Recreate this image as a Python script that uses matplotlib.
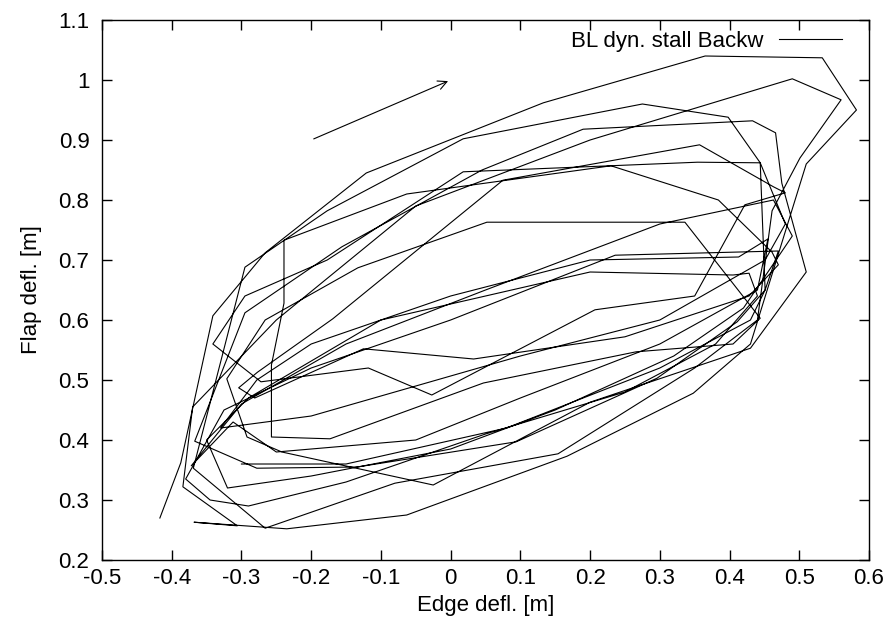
import matplotlib
matplotlib.use("Agg")
import matplotlib.pyplot as plt
import numpy as np

plt.rcParams['font.family'] = ['Liberation Sans', 'DejaVu Sans']
plt.rcParams['font.size'] = 16

# edge / flap deflection, one cycle at a time
edge = [
    # cycle 1
    -0.417, -0.387, -0.341, -0.266, -0.121, 0.133, 0.365, 0.533, 0.582, 0.510, 0.430, 0.348, 0.167, -0.063, -0.235, -0.368,
    # cycle 2
    -0.306, -0.384, -0.370, -0.250, -0.050, 0.200, 0.490, 0.560, 0.501, 0.461, 0.440, 0.350, 0.154, -0.080, -0.266,
    # cycle 3
    -0.369, -0.295, -0.177, 0.018, 0.275, 0.398, 0.444, 0.451, 0.411, 0.296, 0.094, -0.134, -0.278,
    # cycle 4
    -0.367, -0.295, -0.156, 0.045, 0.190, 0.433, 0.466, 0.475, 0.510, 0.430, 0.200, -0.025, -0.242,
    # cycle 5
    -0.292, -0.321, -0.266, -0.133, 0.052, 0.336, 0.444, 0.405, 0.266, 0.047, -0.173,
    # cycle 6
    -0.257, -0.257, -0.239, -0.239, -0.063, 0.230, 0.384, 0.461, 0.470, 0.428, 0.250, 0.033, -0.125, -0.281,
    # cycle 7
    -0.304, -0.277, -0.169, 0.075, 0.357, 0.463, 0.480, 0.422, 0.350, 0.207, -0.027, -0.118, -0.272,
    # cycle 8
    -0.341, -0.295, -0.177, 0.018, 0.354, 0.444, 0.480, 0.451, 0.300, 0.100, -0.200, -0.330,
    # cycle 9
    -0.278, -0.200, 0.000, 0.200, 0.413, 0.455, 0.440, 0.300, 0.100, -0.050, -0.250, -0.312,
    # cycle 10
    -0.372, -0.300, -0.150, 0.050, 0.300, 0.463, 0.490, 0.420, 0.320, 0.150, 0.000, -0.200,
    # cycle 11
    -0.320, -0.350, -0.290, -0.100, 0.200, 0.405, 0.428, 0.440, 0.380, 0.250, 0.050, -0.150, -0.290,
    # cycle 12
    -0.345, -0.380, -0.325, -0.200, 0.000, 0.236, 0.470, 0.451, 0.430, 0.300, 0.080, -0.150, -0.300,
]
flap = [
    # cycle 1
    0.270, 0.362, 0.607, 0.712, 0.845, 0.962, 1.040, 1.037, 0.950, 0.860, 0.560, 0.478, 0.373, 0.275, 0.252, 0.263,
    # cycle 2
    0.257, 0.322, 0.455, 0.600, 0.790, 0.900, 1.002, 0.967, 0.870, 0.782, 0.600, 0.520, 0.377, 0.328, 0.253,
    # cycle 3
    0.353, 0.688, 0.782, 0.902, 0.960, 0.938, 0.862, 0.650, 0.597, 0.503, 0.397, 0.355, 0.353,
    # cycle 4
    0.398, 0.612, 0.722, 0.850, 0.918, 0.932, 0.912, 0.828, 0.680, 0.553, 0.463, 0.325, 0.380,
    # cycle 5
    0.405, 0.502, 0.600, 0.687, 0.763, 0.763, 0.603, 0.560, 0.547, 0.495, 0.402,
    # cycle 6
    0.405, 0.525, 0.628, 0.733, 0.810, 0.857, 0.800, 0.713, 0.692, 0.640, 0.572, 0.535, 0.552, 0.470,
    # cycle 7
    0.487, 0.513, 0.602, 0.833, 0.892, 0.822, 0.812, 0.792, 0.640, 0.617, 0.475, 0.520, 0.497,
    # cycle 8
    0.560, 0.640, 0.700, 0.847, 0.863, 0.862, 0.760, 0.700, 0.600, 0.540, 0.440, 0.420,
    # cycle 9
    0.500, 0.560, 0.640, 0.700, 0.705, 0.735, 0.650, 0.560, 0.470, 0.400, 0.380, 0.430,
    # cycle 10
    0.357, 0.460, 0.560, 0.650, 0.760, 0.800, 0.740, 0.620, 0.540, 0.450, 0.385, 0.340,
    # cycle 11
    0.320, 0.400, 0.470, 0.600, 0.680, 0.675, 0.678, 0.640, 0.560, 0.480, 0.410, 0.330, 0.290,
    # cycle 12
    0.300, 0.335, 0.450, 0.520, 0.600, 0.708, 0.715, 0.650, 0.600, 0.520, 0.420, 0.360, 0.360,
]

fig = plt.figure(figsize=(8.9, 6.35), dpi=100)
ax = fig.add_axes([0.1146, 0.1181, 0.8618, 0.8504])

ax.plot(edge, flap, color='black', linewidth=0.8, label='BL dyn. stall Backw')
ax.annotate('', xy=(0.0, 1.0), xytext=(-0.2, 0.9),
            arrowprops=dict(arrowstyle='->', color='black', lw=0.8, mutation_scale=16))

ax.set_xlim(-0.5, 0.6)
ax.set_ylim(0.2, 1.1)
ax.set_xticks(np.arange(-0.5, 0.61, 0.1))
ax.set_yticks(np.arange(0.2, 1.11, 0.1))
ax.set_xticklabels(['-0.5', '-0.4', '-0.3', '-0.2', '-0.1', '0', '0.1', '0.2', '0.3', '0.4', '0.5', '0.6'])
ax.set_yticklabels(['0.2', '0.3', '0.4', '0.5', '0.6', '0.7', '0.8', '0.9', '1', '1.1'])
ax.tick_params(direction='in', top=True, right=True, length=7, width=1)
ax.tick_params(axis='x', pad=6)
ax.tick_params(axis='y', pad=9)
for s in ax.spines.values():
    s.set_linewidth(1)

ax.set_xlabel('Edge defl. [m]', labelpad=4)
ax.set_ylabel('Flap defl. [m]', labelpad=12)

ax.legend(loc='upper right', bbox_to_anchor=(0.97, 0.988), frameon=False, markerfirst=False,
          handlelength=2.8, handletextpad=0.7, borderaxespad=0.0, borderpad=0.2)

fig.savefig('out.png', dpi=100)
